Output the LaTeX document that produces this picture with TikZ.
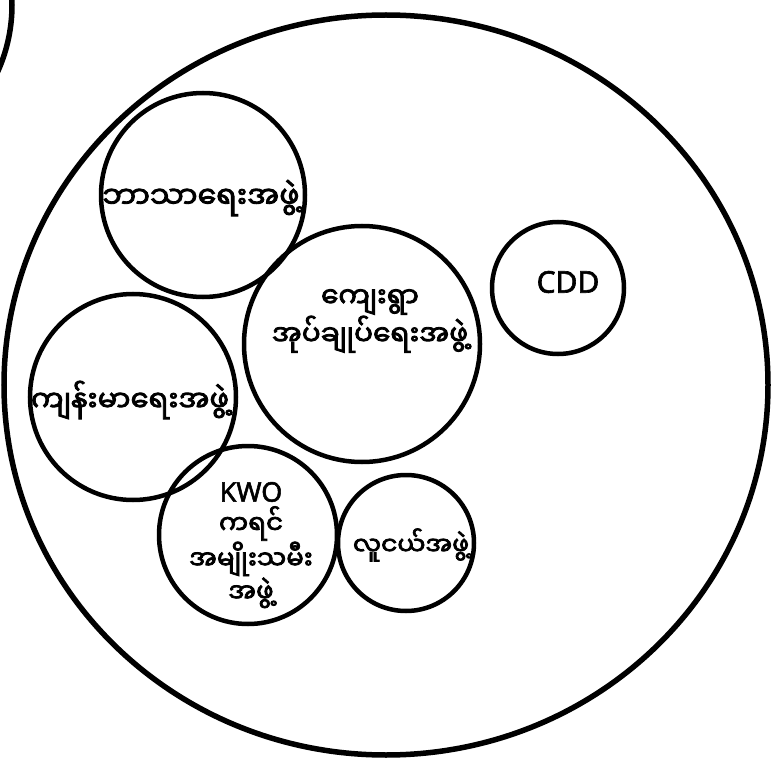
\documentclass[tikz,border=0pt]{standalone}
\usepackage{fontspec}
\setmainfont{Noto Sans}[FakeBold=2]
\newfontfamily\mmfont[Script=Myanmar,FakeBold=3]{Noto Sans Myanmar UI}
\usetikzlibrary{shapes.geometric}
\tikzset{
    group/.style={
        circle,
        draw=black,
        line width=4.5pt,
        inner sep=0pt
    },
    mmlabel/.style={font=\mmfont\fontsize{30}{38}\selectfont, align=center, inner sep=0pt},
    latlabel/.style={font=\fontsize{30}{34}\selectfont, inner sep=0pt}
}
\begin{document}
\begin{tikzpicture}[x=1pt, y=-1pt]
\useasboundingbox (0,0) rectangle (772,765);

% Outer ring and the edge of the neighbouring one
\node[ellipse, draw=black, line width=5.5pt, minimum width=764pt, minimum height=740pt] (village) at (386,385) {};
\node[group, line width=5.5pt, minimum size=324pt] (prev) at (-150,5) {};

% Groups inside
\node[group, minimum size=204pt] (g_religion) at (203,195) {};
\node[group, minimum size=236pt] (g_admin) at (362,344) {};
\node[group, minimum size=132pt] (g_cdd) at (558,288) {};
\node[group, minimum size=206pt] (g_health) at (133,397) {};
\node[group, minimum size=178pt] (g_kwo) at (248,535) {};
\node[group, minimum size=136pt] (g_youth) at (406,543) {};

% Labels
\node[mmlabel] (t_religion) at (201,198) {ဘာသာရေးအဖွဲ့};
\node[mmlabel, font=\mmfont\fontsize{28}{38}\selectfont] (t_admin) at (370,321) {ကျေးရွာ\\အုပ်ချုပ်ရေးအဖွဲ့};
\node[latlabel] (t_cdd) at (568,282) {CDD};
\node[mmlabel, font=\mmfont\fontsize{29}{38}\selectfont] (t_health) at (130,400) {ကျန်းမာရေးအဖွဲ့};
\node[latlabel, font=\fontsize{27}{30}\selectfont] (t_kwo) at (251,492) {KWO};
\node[mmlabel, font=\mmfont\fontsize{26}{33}\selectfont, below=4pt] (t_karen) at (t_kwo.south) {ကရင်\\အမျိုးသမီး\\အဖွဲ့};
\node[mmlabel, font=\mmfont\fontsize{25}{33}\selectfont] (t_youth) at (411,545) {လူငယ်အဖွဲ့};

\end{tikzpicture}
\end{document}
